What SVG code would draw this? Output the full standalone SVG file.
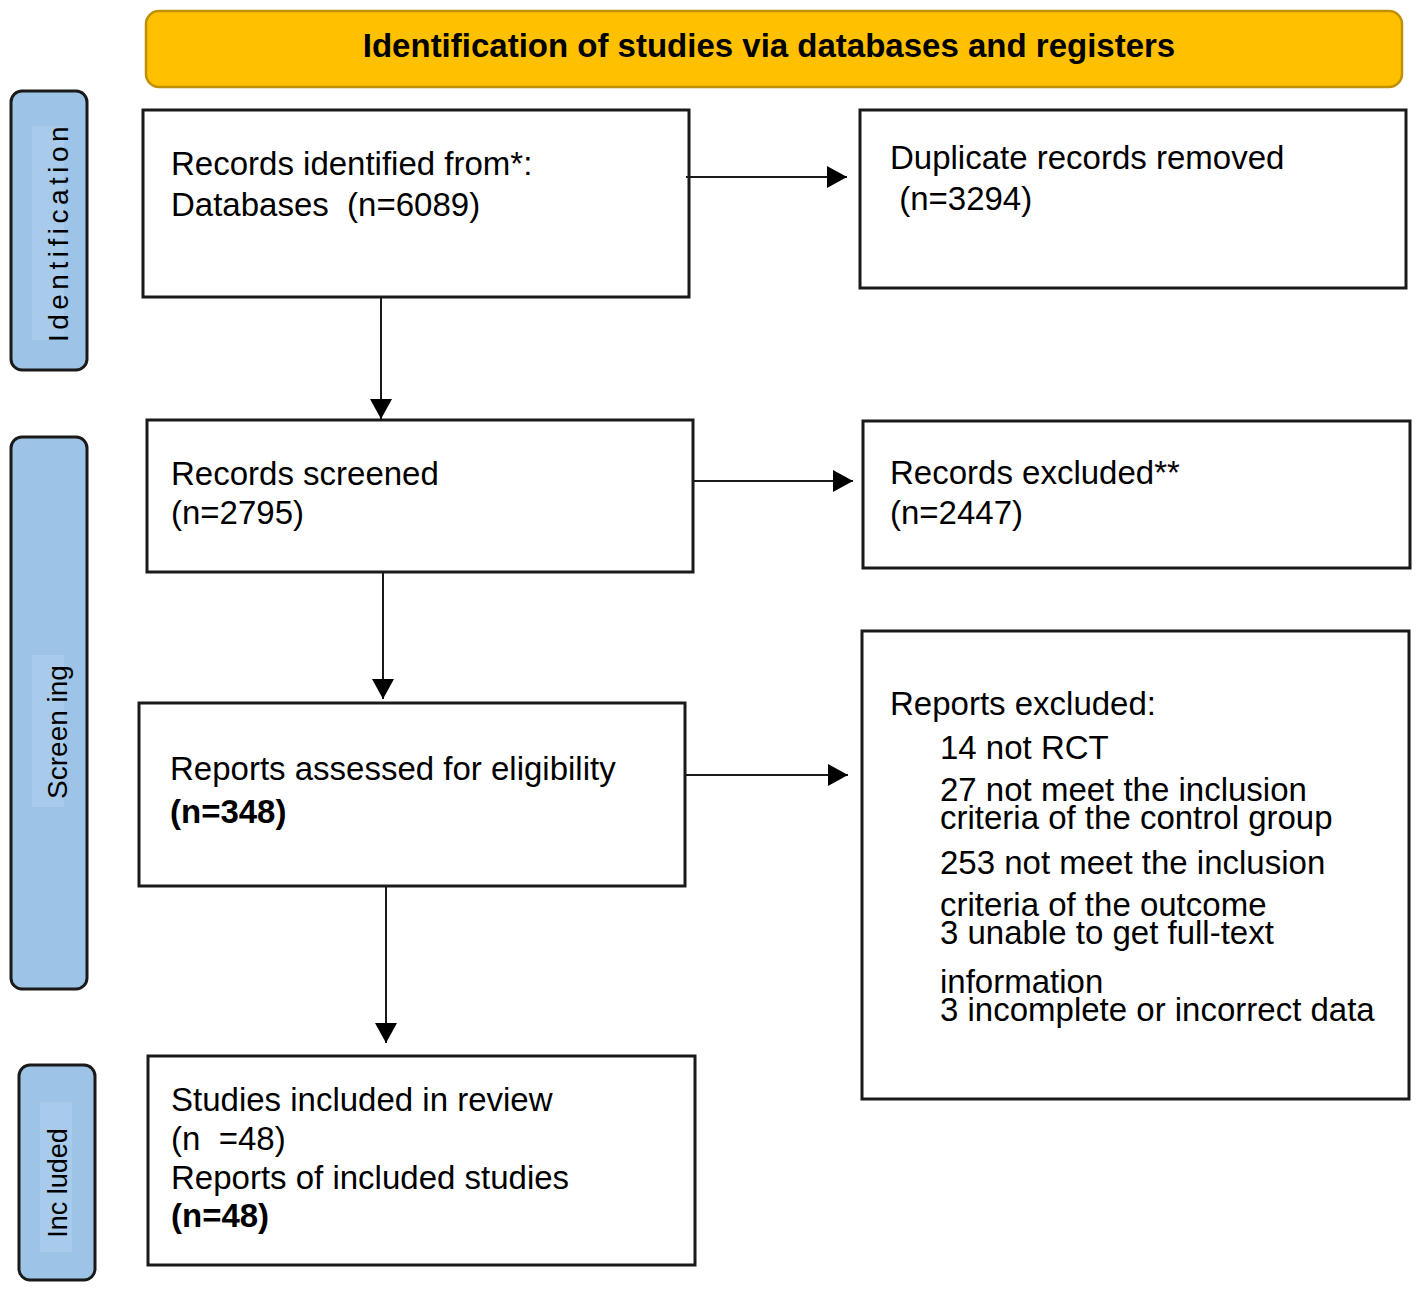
<svg xmlns="http://www.w3.org/2000/svg" width="1418" height="1289" viewBox="0 0 1418 1289">
<defs>
<marker id="arr" markerWidth="20" markerHeight="22" refX="20" refY="11" orient="auto" markerUnits="userSpaceOnUse">
<path d="M0,0 L20,11 L0,22 Z" fill="#000"/>
</marker>
<style>
.box{fill:#fff;stroke:#1a1a1a;stroke-width:3}
.side{fill:#9DC3E6;stroke:#1a1a1a;stroke-width:3}
.sidein{fill:#A8CBEC}
.t{font-family:"Liberation Sans",Arial,sans-serif;font-size:33px;fill:#000;white-space:pre}
.b{font-weight:bold}
.st{font-family:"Liberation Sans",Arial,sans-serif;font-size:28px;fill:#000}
.conn{stroke:#1a1a1a;stroke-width:2;fill:none;marker-end:url(#arr)}
</style>
</defs>
<rect width="1418" height="1289" fill="#fff"/>

<g id="title">
<rect x="146" y="11" width="1256" height="76" rx="13" fill="#FFC000" stroke="#BF9000" stroke-width="2.5"/>
<text x="769" y="57" text-anchor="middle" class="t b" style="font-size:33px">Identification of studies via databases and registers</text>
</g>

<g id="side-identification">
<rect class="side" x="11" y="91" width="76" height="279" rx="11"/>
<rect class="sidein" x="32" y="126" width="32" height="214"/>
<text class="st" transform="translate(68,232) rotate(-90)" text-anchor="middle" letter-spacing="4.5">Identification</text>
</g>
<g id="side-screening">
<rect class="side" x="11" y="437" width="76" height="552" rx="11"/>
<rect class="sidein" x="32" y="655" width="32" height="152"/>
<text class="st" transform="translate(67,732) rotate(-90)" text-anchor="middle" xml:space="preserve">Screen ing</text>
</g>
<g id="side-included">
<rect class="side" x="19" y="1065" width="76" height="215" rx="11"/>
<rect class="sidein" x="40" y="1102" width="32" height="150"/>
<text class="st" transform="translate(67,1183) rotate(-90)" text-anchor="middle" xml:space="preserve" style="font-size:27px">Inc luded</text>
</g>

<g id="records-identified">
<rect class="box" x="143" y="110" width="546" height="187"/>
<text class="t" x="171" y="175">Records identified from*:</text>
<text class="t" x="171" y="216" xml:space="preserve">Databases  (n=6089)</text>
</g>
<g id="duplicates-removed">
<rect class="box" x="860" y="110" width="546" height="178"/>
<text class="t" x="890" y="169">Duplicate records removed</text>
<text class="t" x="890" y="210" xml:space="preserve"> (n=3294)</text>
</g>
<g id="records-screened">
<rect class="box" x="147" y="420" width="546" height="152"/>
<text class="t" x="171" y="485">Records screened</text>
<text class="t" x="171" y="524">(n=2795)</text>
</g>
<g id="records-excluded">
<rect class="box" x="863" y="421" width="547" height="147"/>
<text class="t" x="890" y="484">Records excluded**</text>
<text class="t" x="890" y="524">(n=2447)</text>
</g>
<g id="reports-assessed">
<rect class="box" x="139" y="703" width="546" height="183"/>
<text class="t" x="170" y="780">Reports assessed for eligibility</text>
<text class="t b" x="170" y="823">(n=348)</text>
</g>
<g id="reports-excluded">
<rect class="box" x="862" y="631" width="547" height="468"/>
<text class="t" x="890" y="715">Reports excluded:</text>
<text class="t" x="940" y="759">14 not RCT</text>
<text class="t" x="940" y="801">27 not meet the inclusion</text>
<text class="t" x="940" y="829">criteria of the control group</text>
<text class="t" x="940" y="874">253 not meet the inclusion</text>
<text class="t" x="940" y="916">criteria of the outcome</text>
<text class="t" x="940" y="944">3 unable to get full-text</text>
<text class="t" x="940" y="993">information</text>
<text class="t" x="940" y="1021">3 incomplete or incorrect data</text>
</g>
<g id="studies-included">
<rect class="box" x="148" y="1056" width="547" height="209"/>
<text class="t" x="171" y="1111">Studies included in review</text>
<text class="t" x="171" y="1150" xml:space="preserve">(n  =48)</text>
<text class="t" x="171" y="1189">Reports of included studies</text>
<text class="t b" x="171" y="1227">(n=48)</text>
</g>

<g id="connectors">
<line class="conn" x1="686" y1="177" x2="847" y2="177"/>
<line class="conn" x1="381" y1="297" x2="381" y2="419"/>
<line class="conn" x1="693" y1="481" x2="853" y2="481"/>
<line class="conn" x1="383" y1="572" x2="383" y2="699"/>
<line class="conn" x1="685" y1="775" x2="848" y2="775"/>
<line class="conn" x1="386" y1="886" x2="386" y2="1043"/>
</g>
</svg>
